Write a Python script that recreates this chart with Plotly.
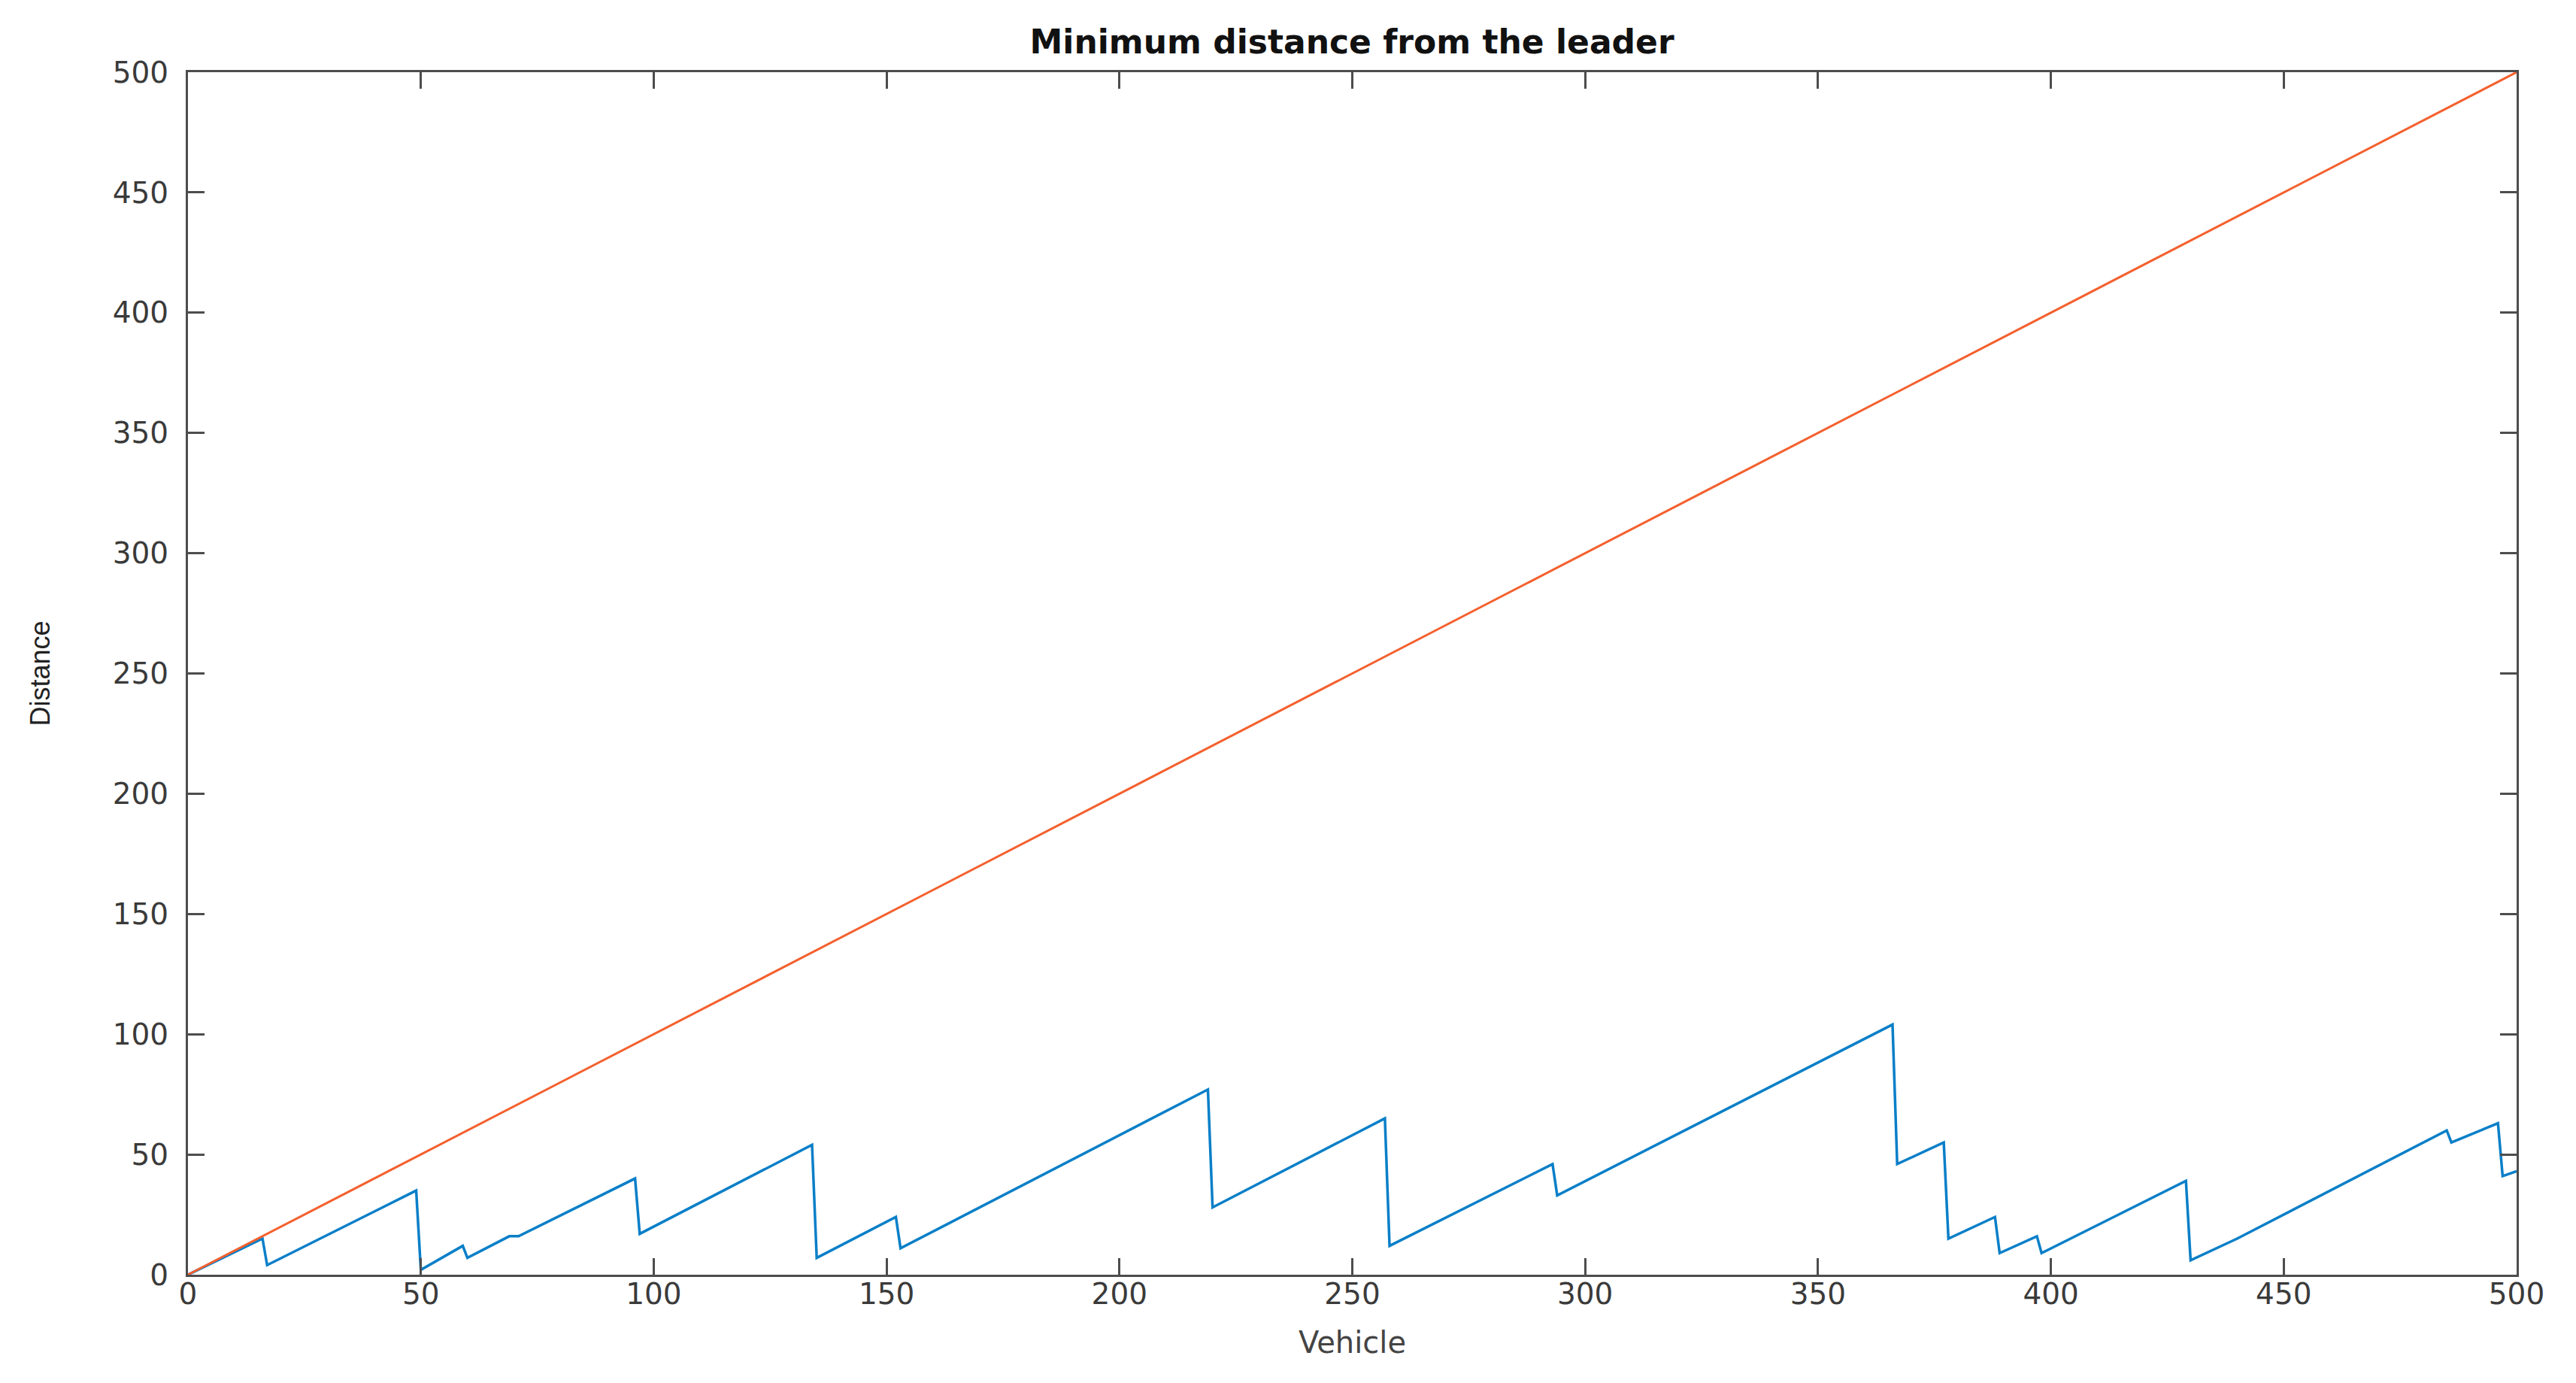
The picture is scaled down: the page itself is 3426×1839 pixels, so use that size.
import plotly.graph_objects as go

# vehicle index / distance
leader_x = [0, 500]
leader_y = [0, 500]

vehicle = [0, 16, 17, 49, 50, 59, 60, 69, 71, 96, 97, 134, 135, 152, 153,
           219, 220, 257, 258, 293, 294, 366, 367, 377, 378, 388, 389,
           397, 398, 429, 430, 440, 485, 486, 496, 497, 500]
min_dist = [0, 15, 4, 35, 2, 12, 7, 16, 16, 40, 17, 54, 7, 24, 11,
            77, 28, 65, 12, 46, 33, 104, 46, 55, 15, 24, 9,
            16, 9, 39, 6, 15, 60, 55, 63, 41, 43]

tick_vals = list(range(0, 501, 50))

axis_color = "#4d4d4d"
wide_font = "DejaVu Sans, Verdana, sans-serif"
narrow_font = "Liberation Sans, Arial, sans-serif"

fig = go.Figure()
fig.add_trace(go.Scatter(x=vehicle, y=min_dist, mode="lines",
                         line=dict(color="#0A7FC8", width=3.5),
                         showlegend=False))
fig.add_trace(go.Scatter(x=leader_x, y=leader_y, mode="lines",
                         line=dict(color="#F4602E", width=3),
                         showlegend=False))

common = dict(
    showgrid=False, zeroline=False,
    showline=True, linecolor=axis_color, linewidth=3,
    mirror="ticks", ticks="inside", ticklen=22, tickwidth=3,
    tickcolor=axis_color,
    tickvals=tick_vals,
    tickfont=dict(family=wide_font, size=39, color="#3a3a3a"),
)

fig.update_xaxes(range=[0, 500],
                 title=dict(text="Vehicle", standoff=30,
                            font=dict(family=wide_font, size=40, color="#444444")),
                 ticklabelstandoff=-11,
                 **common)
fig.update_yaxes(range=[0, 500],
                 title=dict(text="Distance", standoff=73,
                            font=dict(family=narrow_font, size=36, color="#222222")),
                 ticklabelstandoff=15,
                 **common)

fig.update_layout(
    width=3426, height=1839,
    margin=dict(l=242, r=87, t=88, b=152),
    plot_bgcolor="white", paper_bgcolor="white",
    title=dict(text="<b>Minimum distance from the leader</b>",
               x=0.5225, xanchor="center", y=0.974, yanchor="middle",
               font=dict(family=wide_font, size=44, color="#111111")),
)

fig.write_html("out.html")
